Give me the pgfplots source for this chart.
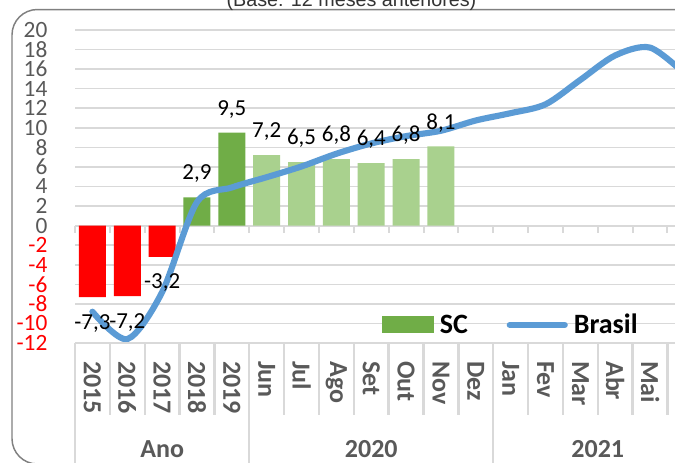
\documentclass[border=0pt]{standalone}
\usepackage{pgfplots}
\pgfplotsset{compat=1.18}
\usepackage{fontspec}
\setmainfont{Carlito}
\newfontfamily\arialfont{Liberation Sans}
\definecolor{cRed}{HTML}{FF0000}
\definecolor{cDark}{HTML}{70AD47}
\definecolor{cLight}{HTML}{A9D18E}
\definecolor{cBlue}{HTML}{5B9BD5}
\definecolor{cGrid}{HTML}{D9D9D9}
\definecolor{cTxt}{HTML}{595959}
\definecolor{cFrame}{HTML}{808080}
\pgfplotsset{lab/.style={nodes near coords,
  every node near coord/.append style={font=\fontsize{17.2}{19}\selectfont, text=black, inner sep=0pt, anchor=base, yshift=#1}}}
\begin{document}
\begin{tikzpicture}
\useasboundingbox (0,0) rectangle (506.25pt,347.25pt);
\fill[white] (0,0) rectangle (506.25pt,347.25pt);
\clip (0,0) rectangle (506.25pt,347.25pt);
\draw[cFrame, line width=1.1pt, rounded corners=19pt] (9pt,-0.75pt) rectangle (560pt,340.1pt);
\node[font=\arialfont\fontsize{14.8}{16}\selectfont, text=black!80, anchor=base, inner sep=0pt] at (263.6pt,342.4pt) {(Base: 12 meses anteriores)};
\begin{axis}[
  at={(56.25pt,90pt)}, anchor=south west,
  scale only axis, width=470.5pt, height=234.75pt,
  xmin=-0.5, xmax=17.5, ymin=-12, ymax=20,
  clip=false,
  axis line style={draw=none},
  major tick length=0pt,
  ytick={-12,-10,...,20},
  yticklabels={{\color{cRed}-12},{\color{cRed}-10},{\color{cRed}-8},{\color{cRed}-6},{\color{cRed}-4},{\color{cRed}-2},0,2,4,6,8,10,12,14,16,18,20},
  yticklabel style={font=\fontsize{17.5}{19}\selectfont, text=cTxt, anchor=east, inner sep=0pt, xshift=-20.5pt},
  ymajorgrids, grid style={cGrid, line width=1.2pt},
  xtick={0,...,17},
  xticklabels={2015,2016,2017,2018,2019,Jun,Jul,Ago,Set,Out,Nov,Dez,Jan,Fev,Mar,Abr,Mai,Jun},
  xticklabel style={font=\bfseries\fontsize{19.5}{22}\selectfont, text=cTxt, inner sep=0pt, yshift=-13.5pt, rotate=-90, anchor=west},
  /pgf/number format/use comma, /pgf/number format/fixed, /pgf/number format/fixed zerofill,
  /pgf/number format/precision=1, /pgf/number format/assume math mode=true,
  legend style={at={(axis cs:8.3,-10.15)}, anchor=west, draw=none, fill=none, inner sep=0pt,
    font=\bfseries\fontsize{21}{24}\selectfont, text=black, nodes={inner sep=0pt},
    /tikz/every odd column/.append style={column sep=4.5pt},
    /tikz/every even column/.append style={column sep=29pt}},
  legend columns=2,
]
\draw[cGrid, line width=1.5pt] (axis cs:-0.5,0) -- (axis cs:17.5,0);
\pgfplotsinvokeforeach{-0.5,0.5,1.5,2.5,3.5,4.5,5.5,6.5,7.5,8.5,9.5,10.5,11.5,12.5,13.5,14.5,15.5,16.5,17.5}{
  \draw[cGrid, line width=1.5pt] (axis cs:#1,0) -- (axis cs:#1,-0.75);}
\addplot[ybar, bar width=20.25pt, bar shift=0pt, fill=cRed, draw=none, lab=-24pt, forget plot]
  coordinates {(0,-7.3) (1,-7.2) (2,-3.2)};
\addplot[ybar, bar width=20.25pt, bar shift=0pt, fill=cDark, draw=none, lab=13pt,
  legend image code/.code={\fill[cDark] (0pt,-6.4pt) rectangle (39pt,6.4pt);}]
  coordinates {(3,2.9) (4,9.5)};
\addlegendentry{SC}
\addplot[ybar, bar width=20.25pt, bar shift=0pt, fill=cLight, draw=none, lab=13pt, forget plot]
  coordinates {(5,7.2) (6,6.5) (7,6.8) (8,6.4) (9,6.8) (10,8.1)};
\addplot[cBlue, line width=4.6pt, smooth, line cap=round,
  legend image code/.code={\path (0pt,0pt) -- (41.25pt,0pt); \draw[cBlue, line width=4.5pt, line cap=round] (2.25pt,0pt) -- (39pt,0pt);}]
  coordinates {(0,-8.8) (1,-11.6) (2,-6.8) (3,2.4) (4,3.9) (5,4.95) (6,6.05) (7,7.35) (8,8.4) (9,9.15) (10,9.7) (11,10.75) (12,11.5) (13,12.4) (14,14.9) (15,17.4) (16,18.2) (17,15.5)};
\addlegendentry{Brasil}
\pgfplotsinvokeforeach{0.5,1.5,2.5,3.5,5.5,6.5,7.5,8.5,9.5,10.5,12.5,13.5,14.5,15.5,16.5}{
  \draw[cGrid, line width=1.8pt] (axis cs:#1,-12) -- (axis cs:#1,-19.36);}
\pgfplotsinvokeforeach{-0.5,4.5,11.5,17.5}{
  \draw[cGrid, line width=1.8pt] (axis cs:#1,-12) -- (axis cs:#1,-26);}
\draw[cGrid, line width=1.5pt] (axis cs:-0.5,-12) -- (axis cs:17.5,-12);
\node[font=\bfseries\fontsize{19.5}{22}\selectfont, text=cTxt] at (axis cs:2,-22.83) {Ano};
\node[font=\bfseries\fontsize{19.5}{22}\selectfont, text=cTxt] at (axis cs:8,-22.83) {2020};
\node[font=\bfseries\fontsize{19.5}{22}\selectfont, text=cTxt] at (axis cs:14.5,-22.83) {2021};
\end{axis}
\end{tikzpicture}
\end{document}
